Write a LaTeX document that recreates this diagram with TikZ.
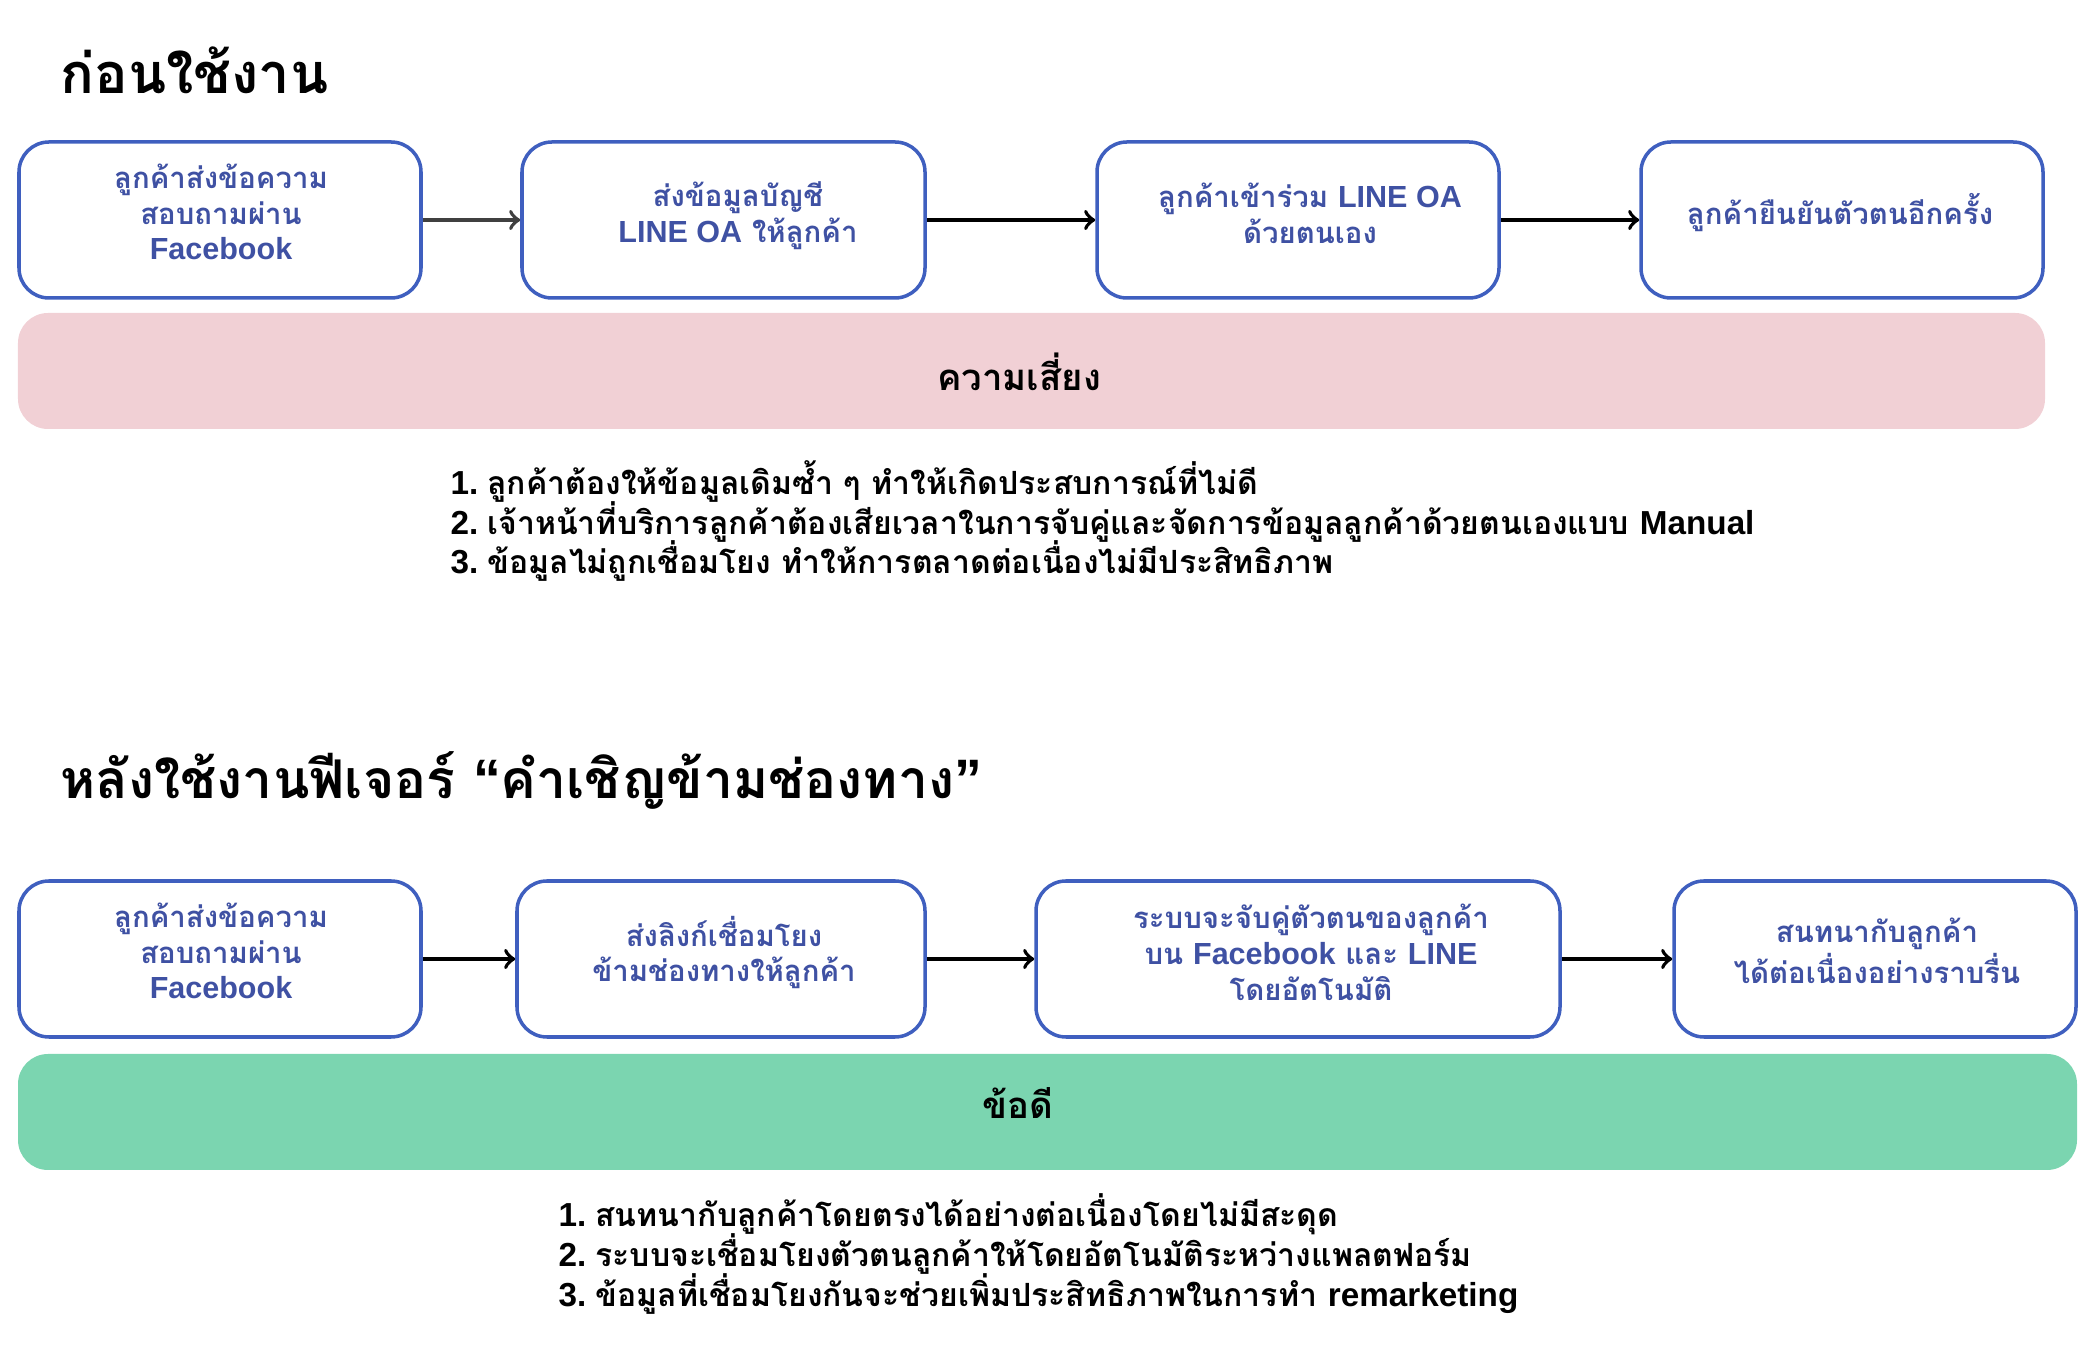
\documentclass[tikz,border=0pt]{standalone}
\usepackage{fontspec}
\setmainfont[Script=Thai]{Loma}
\newfontfamily\enfont[Scale=1.04]{Liberation Sans}
\newcommand{\en}[1]{{\enfont\bfseries #1}}
\newcommand{\num}[1]{\en{#1.}\hspace{.28em}}
\definecolor{boxline}{HTML}{3F5FBF}
\definecolor{boxink}{HTML}{3F51A3}
\definecolor{riskfill}{HTML}{F1D0D5}
\definecolor{goodfill}{HTML}{7BD5B0}
\tikzset{
  flowbox/.style={draw=boxline,line width=1pt,rounded corners=.3cm,minimum height=1.56cm},
  boxtext/.style={text=boxink,font=\fontsize{8.35}{10.2}\selectfont\bfseries,align=center},
  band/.style={rounded corners=.3cm,minimum height=1.16cm},
  bandtext/.style={font=\fontsize{10.4}{12}\selectfont\bfseries,anchor=base},
  heading/.style={font=\fontsize{15.9}{19}\selectfont\bfseries,anchor=base west,inner sep=0pt},
  listline/.style={font=\fontsize{9.1}{11}\selectfont\bfseries,anchor=base west,inner sep=0pt},
  flowarrow/.style={->,line width=1.1pt}
}
\begin{document}
\begin{tikzpicture}
  \useasboundingbox (0,0) rectangle (20.98,13.68);
  % before
  \node (titlebefore) [heading] at (.60,12.74) {ก่อนใช้งาน};
  \node (boxa) [flowbox,minimum width=4.02cm] at (2.20,11.48) {};
  \node (boxb) [flowbox,minimum width=4.03cm] at (7.235,11.48) {};
  \node (boxc) [flowbox,minimum width=4.02cm] at (12.98,11.48) {};
  \node (boxd) [flowbox,minimum width=4.02cm] at (18.42,11.48) {};
  \node (texta) [boxtext] at (2.21,11.56) {ลูกค้าส่งข้อความ\\สอบถามผ่าน\\\en{Facebook}};
  \node (textb) [boxtext] at (7.38,11.52) {ส่งข้อมูลบัญชี\\\en{LINE OA} ให้ลูกค้า};
  \node (textc) [boxtext] at (13.10,11.55) {ลูกค้าเข้าร่วม \en{LINE OA}\\ด้วยตนเอง};
  \node (textd) [boxtext] at (18.40,11.55) {ลูกค้ายืนยันตัวตนอีกครั้ง};
  \draw[flowarrow,draw=black!75] (boxa) -- (boxb);
  \draw[flowarrow] (boxb) -- (boxc);
  \draw[flowarrow] (boxc) -- (boxd);
  \node (bandrisk) [band,fill=riskfill,minimum width=20.27cm] at (10.315,9.97) {};
  \node (labelrisk) [bandtext] at (10.19,9.77) {ความเสี่ยง};
  \node (riskone) [listline] at (4.50,8.735) {\num{1}ลูกค้าต้องให้ข้อมูลเดิมซ้ำ ๆ ทำให้เกิดประสบการณ์ที่ไม่ดี};
  \node (risktwo) [listline] at (4.50,8.335) {\num{2}เจ้าหน้าที่บริการลูกค้าต้องเสียเวลาในการจับคู่และจัดการข้อมูลลูกค้าด้วยตนเองแบบ \en{Manual}};
  \node (riskthree) [listline] at (4.50,7.94) {\num{3}ข้อมูลไม่ถูกเชื่อมโยง ทำให้การตลาดต่อเนื่องไม่มีประสิทธิภาพ};
  % after
  \node (titleafter) [heading,font=\fontsize{15.2}{19}\selectfont\bfseries] at (.60,5.69) {หลังใช้งานฟีเจอร์ \en{“}คำเชิญข้ามช่องทาง\en{”}};
  \node (boxe) [flowbox,minimum width=4.02cm] at (2.20,4.09) {};
  \node (boxf) [flowbox,minimum width=4.08cm] at (7.21,4.09) {};
  \node (boxg) [flowbox,minimum width=5.24cm] at (12.98,4.09) {};
  \node (boxh) [flowbox,minimum width=4.02cm] at (18.75,4.09) {};
  \node (texte) [boxtext] at (2.21,4.17) {ลูกค้าส่งข้อความ\\สอบถามผ่าน\\\en{Facebook}};
  \node (textf) [boxtext] at (7.24,4.155) {ส่งลิงก์เชื่อมโยง\\ข้ามช่องทางให้ลูกค้า};
  \node (textg) [boxtext] at (13.11,4.16) {ระบบจะจับคู่ตัวตนของลูกค้า\\บน \en{Facebook} และ \en{LINE}\\โดยอัตโนมัติ};
  \node (texth) [boxtext] at (18.77,4.17) {สนทนากับลูกค้า\\ได้ต่อเนื่องอย่างราบรื่น};
  \draw[flowarrow] (boxe) -- (boxf);
  \draw[flowarrow] (boxf) -- (boxg);
  \draw[flowarrow] (boxg) -- (boxh);
  \node (bandgood) [band,fill=goodfill,minimum width=20.59cm] at (10.475,2.56) {};
  \node (labelgood) [bandtext] at (10.18,2.49) {ข้อดี};
  \node (goodone) [listline] at (5.58,1.415) {\num{1}สนทนากับลูกค้าโดยตรงได้อย่างต่อเนื่องโดยไม่มีสะดุด};
  \node (goodtwo) [listline] at (5.58,1.015) {\num{2}ระบบจะเชื่อมโยงตัวตนลูกค้าให้โดยอัตโนมัติระหว่างแพลตฟอร์ม};
  \node (goodthree) [listline] at (5.58,.615) {\num{3}ข้อมูลที่เชื่อมโยงกันจะช่วยเพิ่มประสิทธิภาพในการทำ \en{remarketing}};
\end{tikzpicture}
\end{document}
